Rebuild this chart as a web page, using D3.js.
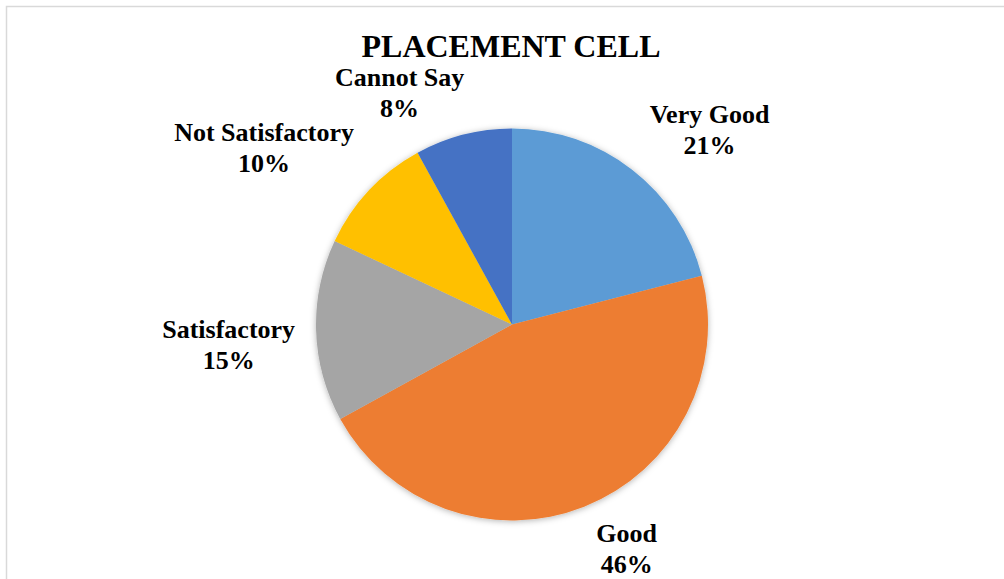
<!DOCTYPE html>
<html>
<head>
<meta charset="utf-8">
<script src="https://cdn.jsdelivr.net/npm/d3@7"></script>
<style>
  html, body { margin: 0; padding: 0; background: #fff; }
  svg { display: block; }
  text { font-family: "Liberation Serif", "Times New Roman", serif; font-weight: bold; fill: #000; }
</style>
</head>
<body>
<svg id="chart"></svg>
<script>
let width = 1004
let height = 579

// chart data
let categories = ['Very Good', 'Good', 'Satisfactory', 'Not Satisfactory', 'Cannot Say']
let shares = [21, 46, 15, 10, 8]
let colors = ['#5B9BD5', '#ED7D31', '#A5A5A5', '#FFC000', '#4472C4']
let title = 'PLACEMENT CELL'

// small nudges for the "best fit" label placement
let labelNudge = {
  'Very Good': [9, 0],
  'Good': [15, 2],
  'Satisfactory': [-7, 13],
  'Not Satisfactory': [-5, -4],
  'Cannot Say': [-28, 0]
}

let cx = 512
let cy = 324.5
let radius = 196

let svg = d3.select('#chart')
  .attr('width', width)
  .attr('height', height)

// outer border of chart area
svg.append('rect')
  .attr('x', 6.5)
  .attr('y', 6.5)
  .attr('width', 1200)
  .attr('height', 1000)
  .attr('fill', 'none')
  .attr('stroke', '#d9d9d9')
  .attr('stroke-width', 1.5)

let defs = svg.append('defs')
defs.append('filter')
  .attr('id', 'shadow')
  .attr('x', '-20%').attr('y', '-20%')
  .attr('width', '140%').attr('height', '140%')
  .append('feDropShadow')
  .attr('dx', 0)
  .attr('dy', 1)
  .attr('stdDeviation', 3)
  .attr('flood-color', '#000')
  .attr('flood-opacity', 0.3)

svg.append('text')
  .attr('x', 511)
  .attr('y', 57)
  .attr('text-anchor', 'middle')
  .style('font-size', '32px')
  .text(title)

let data = categories.map((c, i) => ({ name: c, value: shares[i], color: colors[i] }))

let pie = d3.pie()
  .sort(null)
  .value(d => d.value)

let arc = d3.arc()
  .innerRadius(0)
  .outerRadius(radius)

let arcs = pie(data)

let g = svg.append('g')
  .attr('transform', 'translate(' + [cx, cy] + ')')

g.append('g')
  .attr('filter', 'url(#shadow)')
  .selectAll('path')
  .data(arcs)
  .enter()
  .append('path')
  .attr('d', arc)
  .attr('fill', d => d.data.color)

// labels outside the pie
let fontSize = 26
let lineGap = 31
let clampSign = v => Math.max(-1, Math.min(1, v * 2))

let labels = g.selectAll('g.label')
  .data(arcs)
  .enter()
  .append('g')
  .attr('class', 'label')

labels.each(function(d) {
  let lab = d3.select(this)
  let t1 = lab.append('text')
    .attr('text-anchor', 'middle')
    .style('font-size', fontSize + 'px')
    .attr('y', -lineGap / 2 + 8)
    .text(d.data.name)
  lab.append('text')
    .attr('text-anchor', 'middle')
    .style('font-size', fontSize + 'px')
    .attr('y', lineGap / 2 + 8)
    .text(d.data.value + '%')

  let hw = t1.node().getComputedTextLength() / 2
  let hh = 28
  let a = (d.startAngle + d.endAngle) / 2
  let r = radius + 14
  let s = Math.sin(a)
  let c = Math.cos(a)
  let nudge = labelNudge[d.data.name] || [0, 0]
  let x = r * s + hw * clampSign(s) + nudge[0]
  let y = -r * c - hh * clampSign(c) + nudge[1]
  lab.attr('transform', 'translate(' + [x, y] + ')')
})
</script>
</body>
</html>
